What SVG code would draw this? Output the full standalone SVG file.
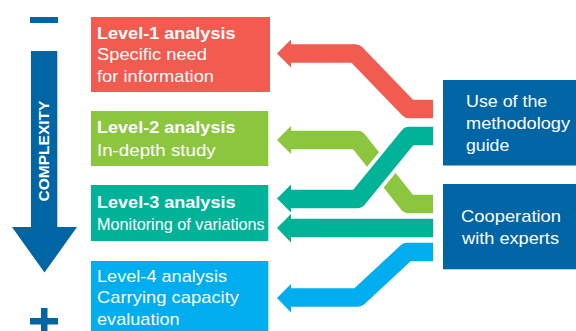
<svg xmlns="http://www.w3.org/2000/svg" width="576" height="331" viewBox="0 0 576 331">
<style>
.t{font-family:"Liberation Sans",Arial,Helvetica,sans-serif;font-size:17px;fill:#fff}
.b{font-weight:bold}
.red{fill:#F15B50}.grn{fill:#8CC63F}.teal{fill:#00B398}.lblu{fill:#00ADEE}.dblu{fill:#0065A5}
.sr{stroke:#F15B50}.sg{stroke:#8CC63F}.st{stroke:#00B398}.sl{stroke:#00ADEE}
.line{fill:none;stroke-width:18.5;stroke-linejoin:round;stroke-linecap:butt}
</style>
<g id="complexity-scale">
<rect class="dblu" x="30" y="17" width="28" height="6"/>
<polygon class="dblu" points="31,51 57.3,51 57.3,227 77,227 44.5,272.5 12,227 31,227"/>
<text class="t b" style="font-size:15.5px" transform="translate(49,151) rotate(-90)" text-anchor="middle">COMPLEXITY</text>
<rect class="dblu" x="30" y="318" width="28" height="6.5"/>
<rect class="dblu" x="41" y="308" width="6.5" height="30"/>
</g>
<g id="level1">
<rect class="red" x="91" y="17" width="179" height="75"/>
<text class="t b" x="97" y="38.5" textLength="138.5" lengthAdjust="spacingAndGlyphs">Level-1 analysis</text>
<text class="t" x="97" y="60.3" textLength="110" lengthAdjust="spacingAndGlyphs">Specific need</text>
<text class="t" x="97" y="82" textLength="117" lengthAdjust="spacingAndGlyphs">for information</text>
</g>
<g id="level2">
<rect class="grn" x="91" y="111" width="177.3" height="55"/>
<text class="t b" x="97" y="133.3" textLength="138.5" lengthAdjust="spacingAndGlyphs">Level-2 analysis</text>
<text class="t" x="97" y="155.5" textLength="118.7" lengthAdjust="spacingAndGlyphs">In-depth study</text>
</g>
<g id="level3">
<rect class="teal" x="91" y="185" width="177.3" height="56"/>
<text class="t b" x="97" y="208.3" textLength="138.5" lengthAdjust="spacingAndGlyphs">Level-3 analysis</text>
<text class="t" x="97" y="229.5" textLength="167.7" lengthAdjust="spacingAndGlyphs">Monitoring of variations</text>
</g>
<g id="level4">
<rect class="lblu" x="91" y="261" width="177.3" height="75"/>
<text class="t" x="97" y="281.7" textLength="130" lengthAdjust="spacingAndGlyphs">Level-4 analysis</text>
<text class="t" x="97" y="303.4" textLength="142" lengthAdjust="spacingAndGlyphs">Carrying capacity</text>
<text class="t" x="97" y="325" textLength="82.7" lengthAdjust="spacingAndGlyphs">evaluation</text>
</g>
<g id="methodology-guide">
<rect class="dblu" x="443" y="80" width="140" height="85.5"/>
<text class="t" x="466" y="107.3" textLength="81.3" lengthAdjust="spacingAndGlyphs">Use of the</text>
<text class="t" x="466" y="129" textLength="104" lengthAdjust="spacingAndGlyphs">methodology</text>
<text class="t" x="466" y="150.5" textLength="43.3" lengthAdjust="spacingAndGlyphs">guide</text>
</g>
<g id="experts">
<rect class="dblu" x="443" y="184" width="140" height="85.3"/>
<text class="t" x="461" y="222" textLength="100" lengthAdjust="spacingAndGlyphs">Cooperation</text>
<text class="t" x="462" y="243.5" textLength="97" lengthAdjust="spacingAndGlyphs">with experts</text>
</g>
<g id="connectors">
<path class="line sr" d="M433,109 H409 L355.5,53.5 H290"/>
<polygon class="red" points="277,53.5 291,39.5 291,67.5"/>
<path class="line sg" d="M433,204 H408.5 L357.5,140 H290"/>
<polygon class="grn" points="277,140 291,126 291,154"/>
<line x1="409" y1="136" x2="357.5" y2="199" stroke="#fff" stroke-width="26" stroke-linecap="butt"/>
<path class="line st" d="M433,136 H409 L357.5,199 H290"/>
<polygon class="teal" points="277,198.5 291,184.5 291,212.5"/>
<path class="line st" d="M433,228 H290"/>
<polygon class="teal" points="277,228 291,214 291,242.5"/>
<path class="line sl" d="M433,252 H407 L358,297.5 H290"/>
<polygon class="lblu" points="277,298 291,284 291,312.5"/>
</g>
</svg>
